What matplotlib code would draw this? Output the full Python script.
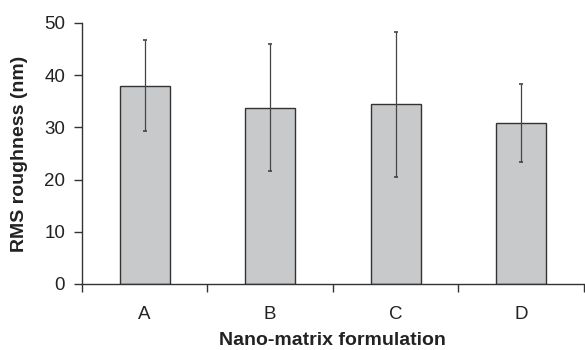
import numpy as np
import matplotlib.pyplot as plt

plt.rcParams['font.family'] = ['Liberation Sans', 'DejaVu Sans']

# Données
formulations = ["A", "B", "C", "D"]
rms_moyenne = [38.0, 33.8, 34.4, 30.9]
rms_ecart = [8.7, 12.2, 13.9, 7.5]

fig = plt.figure(figsize=(5.85, 3.5), dpi=100)
ax = fig.add_axes([0.140, 0.1886, 0.858, 0.7457])

x = np.arange(len(formulations))
ax.bar(x, rms_moyenne, width=0.4, color="#c8c9cb", edgecolor="#333333",
       linewidth=1.0, zorder=2)
ax.errorbar(x, rms_moyenne, yerr=rms_ecart, fmt="none", ecolor="#444444",
            elinewidth=0.9, capsize=1.7, capthick=1.2, zorder=3)

ax.set_xlim(-0.5, len(formulations) - 0.5)
ax.set_ylim(0, 50)
ax.set_yticks([0, 10, 20, 30, 40, 50])

# graduations x aux limites des catégories, étiquettes au centre
ax.set_xticks(np.arange(len(formulations) + 1) - 0.5)
ax.set_xticklabels([])
ax.set_xticks(x, minor=True)
ax.set_xticklabels(formulations, minor=True)
ax.tick_params(axis="x", which="minor", length=0, pad=16, labelsize=13.5,
               labelcolor="#222222")
ax.tick_params(axis="x", which="major", length=6, width=1, direction="out",
               color="#333333")
ax.tick_params(axis="y", length=6, width=1, direction="out", labelsize=13.5,
               color="#333333", labelcolor="#222222", pad=6)

for side in ["top", "right"]:
    ax.spines[side].set_visible(False)
for side in ["left", "bottom"]:
    ax.spines[side].set_color("#333333")
    ax.spines[side].set_linewidth(1.0)

ax.set_xlabel("Nano-matrix formulation", fontsize=14, fontweight="bold",
              color="#222222", va="center")
ax.set_ylabel("RMS roughness (nm)", fontsize=14, fontweight="bold",
              color="#222222", va="center")
ax.xaxis.set_label_coords(0.5, -0.218)
ax.yaxis.set_label_coords(-0.124, 0.5)

plt.savefig("out.png", dpi=100)
plt.close()
